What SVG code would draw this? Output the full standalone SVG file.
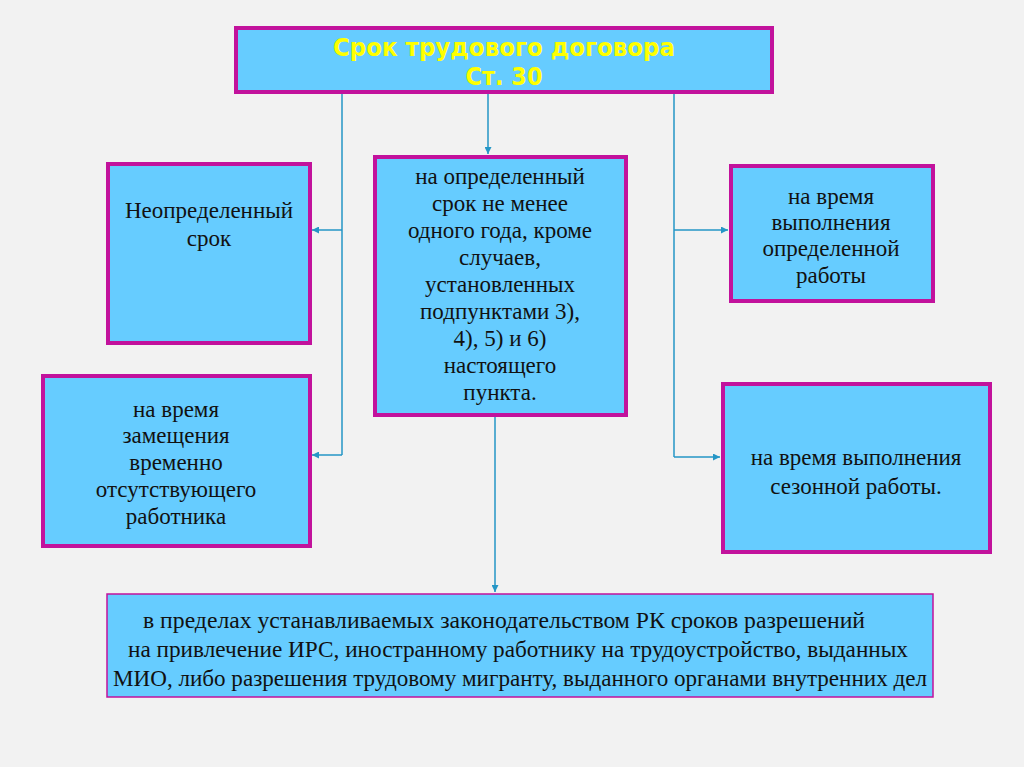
<svg xmlns="http://www.w3.org/2000/svg" width="1024" height="767" viewBox="0 0 1024 767">
<style>
.box{fill:#66CCFF;stroke:#C2129C;stroke-width:4}
.thin{fill:#66CCFF;stroke:#C2129C;stroke-width:1.5}
.t{font-family:"Liberation Serif",serif;font-size:23px;fill:#111;text-anchor:middle}
.title{font-family:"DejaVu Sans",sans-serif;font-weight:bold;font-size:24px;fill:#FFFF00;text-anchor:middle}
.c{stroke:#2596C6;stroke-width:1.5;fill:none}
</style>
<defs>
<marker id="ah" viewBox="0 0 10 10" refX="10" refY="5" markerWidth="7" markerHeight="7" orient="auto" markerUnits="userSpaceOnUse">
<path d="M0,0 L10,5 L0,10 z" fill="#2596C6"/>
</marker>
</defs>
<rect width="1024" height="767" fill="#F2F2F2"/>
<g id="connectors">
<path class="c" d="M342,93 V455"/>
<path class="c" d="M342,230 H312" marker-end="url(#ah)"/>
<path class="c" d="M342,455 H312" marker-end="url(#ah)"/>
<path class="c" d="M488,93 V154" marker-end="url(#ah)"/>
<path class="c" d="M674,93 V457"/>
<path class="c" d="M674,230 H728" marker-end="url(#ah)"/>
<path class="c" d="M674,457 H720" marker-end="url(#ah)"/>
<path class="c" d="M495,417 V592" marker-end="url(#ah)"/>
</g>
<g id="title">
<rect class="box" x="236" y="28" width="536" height="64"/>
<text class="title" x="504" y="56" textLength="342" lengthAdjust="spacingAndGlyphs">Срок трудового договора</text>
<text class="title" x="504" y="85" textLength="77" lengthAdjust="spacingAndGlyphs">Ст. 30</text>
</g>
<g id="indefinite">
<rect class="box" x="108" y="164" width="202" height="179"/>
<text class="t" x="209" y="218">Неопределенный</text>
<text class="t" x="209" y="246">срок</text>
</g>
<g id="definite">
<rect class="box" x="375" y="157" width="251" height="258"/>
<text class="t" x="500" y="184">на определенный</text>
<text class="t" x="500" y="211">срок не менее</text>
<text class="t" x="500" y="238">одного года, кроме</text>
<text class="t" x="500" y="265">случаев,</text>
<text class="t" x="500" y="292">установленных</text>
<text class="t" x="500" y="319">подпунктами 3),</text>
<text class="t" x="500" y="346">4), 5) и 6)</text>
<text class="t" x="500" y="373">настоящего</text>
<text class="t" x="500" y="400">пункта.</text>
</g>
<g id="work">
<rect class="box" x="731" y="166" width="202" height="135"/>
<text class="t" x="831" y="204">на время</text>
<text class="t" x="831" y="230">выполнения</text>
<text class="t" x="831" y="256">определенной</text>
<text class="t" x="831" y="283">работы</text>
</g>
<g id="replacement">
<rect class="box" x="43" y="376" width="267" height="170"/>
<text class="t" x="176" y="417">на время</text>
<text class="t" x="176" y="443">замещения</text>
<text class="t" x="176" y="470">временно</text>
<text class="t" x="176" y="497">отсутствующего</text>
<text class="t" x="176" y="524">работника</text>
</g>
<g id="seasonal">
<rect class="box" x="723" y="384" width="267" height="168"/>
<text class="t" x="856" y="465">на время  выполнения</text>
<text class="t" x="856" y="494">сезонной работы.</text>
</g>
<g id="foreign">
<rect class="thin" x="107" y="594" width="826" height="103"/>
<text class="t" x="504" y="628" font-size="24" textLength="722" lengthAdjust="spacingAndGlyphs">в пределах устанавливаемых законодательством РК сроков разрешений</text>
<text class="t" x="518" y="657" font-size="24" textLength="780" lengthAdjust="spacingAndGlyphs">на привлечение ИРС, иностранному работнику на трудоустройство, выданных</text>
<text class="t" x="520" y="686" font-size="24" textLength="814" lengthAdjust="spacingAndGlyphs">МИО, либо разрешения трудовому мигранту, выданного органами внутренних дел</text>
</g>
</svg>
